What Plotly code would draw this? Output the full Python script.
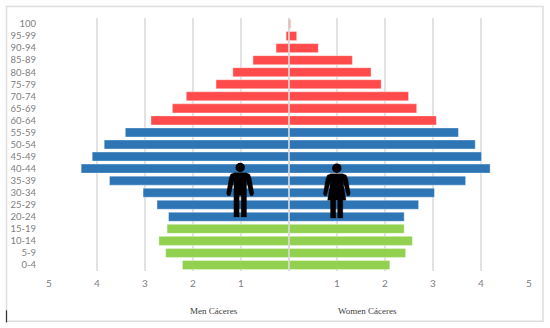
import plotly.graph_objects as go

age_groups = ["0-4", "5-9", "10-14", "15-19", "20-24", "25-29", "30-34", "35-39", "40-44", "45-49",
              "50-54", "55-59", "60-64", "65-69", "70-74", "75-79", "80-84", "85-89", "90-94", "95-99", "100"]
men = [2.22, 2.57, 2.71, 2.54, 2.51, 2.75, 3.04, 3.74, 4.33, 4.10,
       3.85, 3.41, 2.875, 2.43, 2.14, 1.52, 1.17, 0.75, 0.27, 0.06, 0.02]
women = [2.10, 2.43, 2.57, 2.40, 2.40, 2.70, 3.03, 3.68, 4.19, 4.01,
         3.88, 3.53, 3.07, 2.66, 2.49, 1.92, 1.71, 1.32, 0.61, 0.16, 0.03]
GREEN, BLUE, RED = "#92D050", "#2E75B6", "#FF4B4B"
group_colors = [GREEN] * 4 + [BLUE] * 8 + [RED] * 9
tick_values = [-5, -4, -3, -2, -1, 0, 1, 2, 3, 4, 5]
tick_labels = ["5", "4", "3", "2", "1", "", "1", "2", "3", "4", "5"]

W, H = 550, 328
L, R, T, B = 49, 529, 18, 270.7


def px(x):
    return (x - L) / (R - L)


def py(y):
    return (B - y) / (B - T)


def poly(points):
    return "M " + " L ".join(f"{px(x):.5f},{py(y):.5f}" for x, y in points) + " Z"


def figure_shape(path):
    return dict(type="path", xref="paper", yref="paper", path=path,
                fillcolor="black", line=dict(color="black", width=0.3), layer="above")


def head(cx, cy, r):
    return dict(type="circle", xref="paper", yref="paper", x0=px(cx - r), x1=px(cx + r),
                y0=py(cy + r), y1=py(cy - r), fillcolor="black",
                line=dict(color="black", width=0), layer="above")


man_outline = [(-6, 172.5), (6, 172.5), (9.5, 174), (11, 178), (13.6, 193), (12.5, 195.5), (10.2, 195.5), (9.2, 193),
               (6.3, 180), (6.3, 216.7), (1, 216.7), (1, 195), (-1, 195), (-1, 216.7), (-6.3, 216.7), (-6.3, 180),
               (-9.2, 193), (-10.2, 195.5), (-12.5, 195.5), (-13.6, 193), (-11, 178), (-9.5, 174)]
woman_outline = [(-6, 173.5), (6, 173.5), (9.5, 175), (11, 179), (13.4, 193), (12.5, 195.5), (10.4, 195.5), (9.6, 193),
                 (6, 180), (9.2, 200), (6, 200), (6, 217.7), (0.8, 217.7), (0.8, 200), (-1, 200), (-1, 217.7),
                 (-6.3, 217.7), (-6.3, 200), (-9.2, 200), (-6, 180), (-9.6, 193), (-10.4, 195.5), (-12.5, 195.5),
                 (-13.4, 193), (-11, 179), (-9.5, 175)]

MAN_X, WOMAN_X = 240.2, 336.8
shapes = [
    dict(type="rect", xref="paper", yref="paper", x0=px(6.5), x1=px(543), y0=py(321), y1=py(6.5),
         line=dict(color="#DEDEDE", width=1.5), fillcolor="rgba(0,0,0,0)", layer="below"),
    dict(type="line", xref="paper", yref="paper", x0=px(6.5), x1=px(6.5), y0=py(322), y1=py(310),
         line=dict(color="#333333", width=1.2)),
    dict(type="line", xref="x", yref="paper", x0=0, x1=0, y0=0, y1=1,
         line=dict(color="#D9D9D9", width=1.5), layer="above"),
    figure_shape(poly([(MAN_X + x, y) for x, y in man_outline])),
    head(MAN_X, 167.3, 4.7),
    figure_shape(poly([(WOMAN_X + x, y) for x, y in woman_outline])),
    head(WOMAN_X, 168, 4.7),
]

fig = go.Figure()
bar_line = dict(color="rgba(255,255,255,0.45)", width=0.8)
fig.add_trace(go.Bar(y=age_groups, x=[-v for v in men], orientation="h", name="Men Cáceres",
                     marker=dict(color=group_colors, line=bar_line), showlegend=False))
fig.add_trace(go.Bar(y=age_groups, x=women, orientation="h", name="Women Cáceres",
                     marker=dict(color=group_colors, line=bar_line), showlegend=False))

fig.update_layout(
    width=W, height=H, margin=dict(l=L, r=W - R, t=T, b=H - B, pad=0),
    paper_bgcolor="white", plot_bgcolor="white",
    barmode="overlay", bargap=0.25,
    shapes=shapes,
    font=dict(family="Lato, Open Sans, sans-serif", size=10, color="#808080"),
    xaxis=dict(range=[-5, 5], tickmode="array", tickvals=tick_values, ticktext=tick_labels,
               showgrid=True, gridcolor="#E2E2E2", gridwidth=1.5, zeroline=False, showline=False,
               ticks="outside", ticklen=3, tickcolor="rgba(0,0,0,0)", tickfont=dict(size=10, color="#808080")),
    yaxis=dict(type="category", categoryorder="array", categoryarray=age_groups, range=[-0.5, 20.5],
               showgrid=False, zeroline=False, showline=False,
               ticks="outside", ticklen=10, tickcolor="rgba(0,0,0,0)", tickfont=dict(size=9.5, color="#808080")),
    annotations=[
        dict(text="Men Cáceres", xref="paper", yref="paper", x=px(214), y=py(310.8), showarrow=False,
             xanchor="center", yanchor="middle", font=dict(family="Liberation Serif", size=9, color="#404040")),
        dict(text="Women Cáceres", xref="paper", yref="paper", x=px(367.7), y=py(310.8), showarrow=False,
             xanchor="center", yanchor="middle", font=dict(family="Liberation Serif", size=9, color="#404040")),
    ],
)

fig.write_html("out.html", post_script="document.body.style.margin='0';document.documentElement.style.overflow='hidden';",
               config=dict(displayModeBar=False))
